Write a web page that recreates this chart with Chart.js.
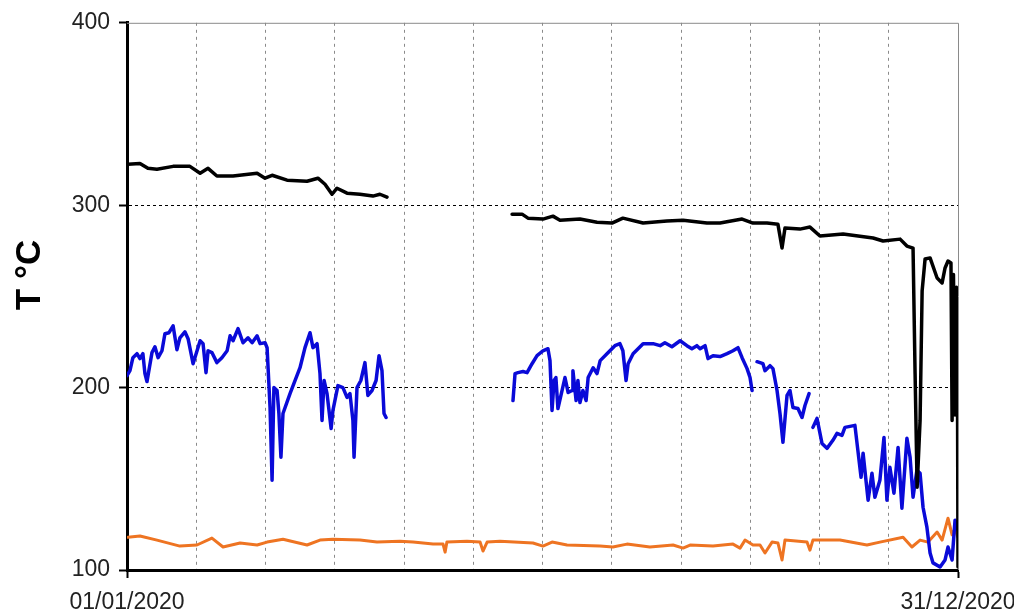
<!DOCTYPE html>
<html>
<head>
<meta charset="utf-8">
<script src="https://cdn.jsdelivr.net/npm/chart.js@4.4.1/dist/chart.umd.min.js"></script>
<style>
  body { margin: 0; background: #fff; }
  canvas { display: block; }
</style>
</head>
<body>
<canvas id="chart" width="1014" height="611"></canvas>
<script>
// x values are days since 01/01/2020, null temperature = gap in the record
const blackDays = [0.4, 5.7, 9.2, 13.2, 20.3, 27.7, 32.2, 35.7, 39.6, 46.7, 57.3, 60.8, 63.9, 70.5, 79.3, 84.1,
  87.2, 90.3, 92.5, 96.9, 102.6, 108.3, 111.4, 114.5, 140,
  169.6, 174.0, 176.6, 183.2, 187.6, 190.7, 199.5, 207.0, 213.6, 218.4, 227.3, 237.8, 244.9, 255.4, 261.2,
  270.9, 275.7, 281.9, 286.7, 288.5, 289.8, 296.4, 300.8, 305.2, 315.4, 328.6, 333.0, 340.5, 343.5, 346.2,
  347.1, 348.0, 349.3, 350.2, 351.5, 353.7, 356.8, 359.0, 360.3, 361.6, 362.9, 363.4, 364.0, 364.7, 365.3,
  365.8, 366.0];
const blackTemps = [322.4, 322.9, 320.2, 319.7, 321.3, 321.3, 317.5, 320.2, 316.0, 316.0, 317.5, 314.8, 316.4, 313.7, 313.1, 314.8,
  311.5, 306.0, 309.3, 306.6, 306.0, 305.0, 306.0, 304.4, null,
  295.1, 295.1, 292.9, 292.4, 294.0, 291.8, 292.4, 290.7, 290.2, 292.9, 290.2, 291.3, 291.8, 290.2, 290.2,
  292.4, 290.2, 290.2, 289.5, 276.5, 287.5, 286.9, 288.0, 283.1, 284.2, 282.0, 280.4, 281.4, 277.6, 276.5,
  207.7, 145.4, 182.0, 253.0, 270.5, 271.1, 260.1, 257.4, 265.6, 269.4, 268.3, 182.0, 262, 185, 255,
  190, 101.7];

const blueDays = [0, 1.3, 2.6, 4.4, 5.7, 7.0, 7.9, 8.8, 11.0, 12.3, 13.7, 15.4, 16.7, 18.5, 20.3, 22.0, 23.3,
  25.5, 26.9, 29.1, 32.2, 33.5, 34.8, 35.7, 37.4, 39.6, 41.8, 44.1, 45.4, 46.7, 48.9, 51.1, 53.3, 55.1, 57.3,
  58.6, 60.8, 61.7, 63.0, 63.9, 64.7, 66.1, 66.9, 67.8, 68.7, 71.8, 76.2, 78.4, 80.6, 81.9, 83.7, 85.0, 85.9,
  86.8, 88.1, 89.9, 90.7, 92.9, 95.1, 96.9, 98.2, 99.5, 100.0, 101.3, 103.0, 104.8, 106.1, 107.9, 109.7,
  111.0, 112.3, 113.2, 114.1, 140,
  170.0, 170.9, 172.2, 174.4, 176.2, 178.4, 180.6, 183.2, 185.4, 186.3, 187.2, 188.1, 188.9, 189.8, 191.6,
  192.9, 194.3, 196.0, 196.4, 197.8, 198.6, 199.5, 200.8, 202.2, 203.1, 205.3, 207.0, 208.4, 211.4, 214.9,
  217.1, 218.4, 219.8, 220.7, 222.9, 227.3, 231.7, 234.8, 236.9, 240.0, 243.6, 246.6, 248.8, 251.0, 252.4,
  254.6, 255.9, 258.1, 261.2, 264.3, 266.9, 269.1, 270.9, 273.1, 274.4, 275.3, 276.4,
  277.5, 280.1, 281.0, 283.2, 284.5, 286.3, 287.6, 288.9, 290.7, 292.0, 293.3, 295.5, 297.3, 298.6, 300.4, 301.2,
  302.1, 303.9, 306.1, 308.3, 310.9, 312.7, 314.9, 316.2, 320.6, 321.9, 323.3, 324.2, 326.4, 328.1, 329.4,
  331.6, 333.4, 334.7, 336.0, 337.8, 339.6, 341.3, 343.5, 344.9, 346.2, 347.9, 349.3, 350.6, 352.3, 353.7,
  355.0, 358.1, 360.3, 361.6, 363.4, 364.7, 366.0];
const blueTemps = [206.6, 209.3, 216.4, 218.6, 215.9, 218.6, 207.7, 203.3, 219.2, 222.4, 216.4, 220.2, 229.5, 230.1, 233.9, 220.8, 227.3,
  230.6, 226.8, 213.1, 225.7, 224.1, 208.2, 220.2, 219.2, 213.7, 216.4, 220.2, 228.4, 225.7, 232.3, 224.6, 227.3, 224.6, 228.4,
  224.1, 224.6, 221.9, 189.1, 149.2, 200.0, 198.4, 185.8, 161.8, 185.8, 196.7, 210.9, 221.9, 230.1, 221.9, 224.1, 207.7, 182.0,
  203.9, 196.7, 177.6, 187.5, 201.1, 200.0, 194.6, 196.7, 182.0, 161.8, 200.0, 203.9, 213.7, 195.7, 198.4, 203.9,
  217.5, 209.3, 185.8, 183.6, null,
  192.9, 207.7, 208.2, 208.8, 208.2, 213.1, 217.5, 220.2, 221.3, 214.8, 187.5, 203.9, 205.5, 188.5, 198.4,
  205.5, 197.3, 198.4, 209.3, 192.9, 203.9, 191.8, 198.4, 192.9, 205.5, 210.9, 207.7, 214.8, 218.6, 223.0,
  224.1, 220.2, 203.9, 213.1, 218.6, 224.1, 224.1, 223.0, 224.6, 222.4, 225.7, 223.0, 221.3, 223.0, 221.3,
  223.0, 215.9, 217.5, 217.0, 218.6, 220.2, 221.9, 216.4, 210.4, 205.5, 198.4, null,
  214.2, 213.1, 209.3, 212.0, 210.4, 198.4, 185.8, 170.0, 195.7, 198.4, 189.1, 188.5, 183.6, 190.2, 196.7, null,
  178.2, 183.1, 169.4, 166.7, 171.1, 174.9, 173.8, 178.2, 179.3, 165.6, 150.8, 164.0, 138.3, 153.0, 139.9,
  149.2, 172.7, 138.3, 156.3, 142.1, 167.2, 133.9, 172.2, 161.8, 139.9, 154.7, 153.0, 134.4, 123.5, 109.3,
  103.9, 101.7, 105.5, 112.6, 105.5, 127.3, 121.9];

const orangeDays = [0.4, 5.7, 13.2, 23.3, 30.8, 37.4, 42.3, 49.8, 57.3, 61.7, 68.7, 79.3, 85.0, 90.7, 102.6, 110.1,
  120.2, 126.0, 134.8, 139.2, 140.1, 140.9, 149.7, 155.5, 156.8, 158.6, 164.3, 178.8, 183.2, 187.2, 193.8,
  208.3, 214.0, 220.2, 230.3, 240.5, 244.9, 248.0, 258.1, 266.9, 270.0, 272.2, 275.7, 278.8, 281.0, 284.1,
  286.7, 288.5, 289.8, 299.5, 300.8, 302.1, 314.0, 325.9, 331.6, 341.8, 345.7, 349.3, 352.8, 356.8, 359.0,
  361.6, 363.4, 364.7, 366.0];
const orangeTemps = [118.0, 118.6, 116.4, 113.1, 113.7, 117.5, 112.6, 114.8, 113.7, 115.3, 116.9, 113.7, 116.4, 116.9, 116.4, 115.3,
  115.8, 115.3, 114.2, 114.2, 109.8, 115.3, 115.8, 115.3, 110.4, 115.3, 115.8, 114.8, 113.1, 115.3, 113.7,
  113.1, 112.6, 114.2, 112.6, 113.7, 112.0, 113.7, 113.1, 114.2, 112.0, 116.4, 113.7, 113.7, 109.3, 115.3,
  114.8, 105.5, 116.4, 115.3, 110.9, 116.4, 116.4, 113.7, 115.3, 118.0, 112.6, 116.4, 115.3, 120.8, 116.4,
  128.4, 119.3, 122.5, 118.0];

const yTicks = [100, 200, 300, 400];
const monthCount = 12;
const xTickLabels = ['01/01/2020', '', '', '', '', '', '', '', '', '', '', '', '31/12/2020'];
const yearDays = 366;

function toPoints(days, temps) {
  return days.map((d, i) => ({ x: d, y: temps[i] }));
}

const frame = {
  id: 'frame',
  beforeDatasetsDraw(chart) {
    const { ctx, chartArea: a } = chart;
    ctx.save();
    ctx.strokeStyle = '#8a8a8a';
    ctx.lineWidth = 1;
    ctx.beginPath();
    ctx.moveTo(a.left, a.top + 0.5);
    ctx.lineTo(a.right + 0.5, a.top + 0.5);
    ctx.lineTo(a.right + 0.5, a.bottom);
    ctx.stroke();
    ctx.restore();
  },
  afterDraw(chart) {
    // y axis title sits a bit above the middle of the plot in the original
    const ctx = chart.ctx;
    ctx.save();
    ctx.translate(40, 275);
    ctx.rotate(-Math.PI / 2);
    ctx.font = 'bold 35px "Liberation Sans", Arial, sans-serif';
    ctx.fillStyle = '#000';
    ctx.textAlign = 'center';
    ctx.textBaseline = 'alphabetic';
    ctx.fillText('T °C', 0, 0);
    ctx.restore();
  }
};

const tickFont = { family: '"Liberation Sans", Arial, sans-serif', size: 23 };

new Chart(document.getElementById('chart'), {
  type: 'line',
  data: {
    datasets: [
      { data: toPoints(blackDays, blackTemps), borderColor: '#000000', borderWidth: 3.5 },
      { data: toPoints(blueDays, blueTemps), borderColor: '#0a0ad8', borderWidth: 3.5 },
      { data: toPoints(orangeDays, orangeTemps), borderColor: '#ee7422', borderWidth: 3 }
    ]
  },
  options: {
    responsive: false,
    animation: false,
    spanGaps: false,
    layout: { padding: { top: 21, right: 56, bottom: 0, left: 0 } },
    elements: {
      point: { radius: 0 },
      line: { tension: 0, borderJoinStyle: 'round', borderCapStyle: 'round' }
    },
    plugins: { legend: { display: false }, tooltip: { enabled: false } },
    scales: {
      x: {
        type: 'linear',
        min: 0,
        max: yearDays,
        afterBuildTicks: (scale) => {
          scale.ticks = [];
          for (let i = 0; i <= monthCount; i++) scale.ticks.push({ value: i * yearDays / monthCount });
        },
        afterFit: (scale) => {
          scale.height = 41;
          scale.paddingLeft = 0;
          scale.paddingRight = 0;
        },
        ticks: {
          autoSkip: false,
          maxRotation: 0,
          padding: 11,
          color: '#222',
          font: tickFont,
          callback: (v, i) => xTickLabels[i]
        },
        grid: {
          color: (c) => (c.index === 0 || c.index === monthCount) ? 'rgba(0,0,0,0)' : '#8a8a8a',
          lineWidth: 1,
          tickLength: 8,
          tickWidth: 2,
          tickColor: (c) => (c.index === 0 || c.index === monthCount) ? '#000' : 'rgba(0,0,0,0)'
        },
        border: { color: '#000', width: 3, dash: [3, 4] }
      },
      y: {
        min: 100,
        max: 400,
        afterBuildTicks: (scale) => {
          scale.ticks = yTicks.map(v => ({ value: v }));
        },
        afterFit: (scale) => { scale.width = 127; },
        ticks: { padding: 9, color: '#222', font: tickFont },
        grid: {
          color: (c) => (c.tick && (c.tick.value === 200 || c.tick.value === 300)) ? '#000' : 'rgba(0,0,0,0)',
          lineWidth: 1,
          tickLength: 8,
          tickWidth: 2,
          tickColor: '#000'
        },
        border: { color: '#000', width: 3, dash: [3, 3] }
      }
    }
  },
  plugins: [frame]
});
</script>
</body>
</html>
